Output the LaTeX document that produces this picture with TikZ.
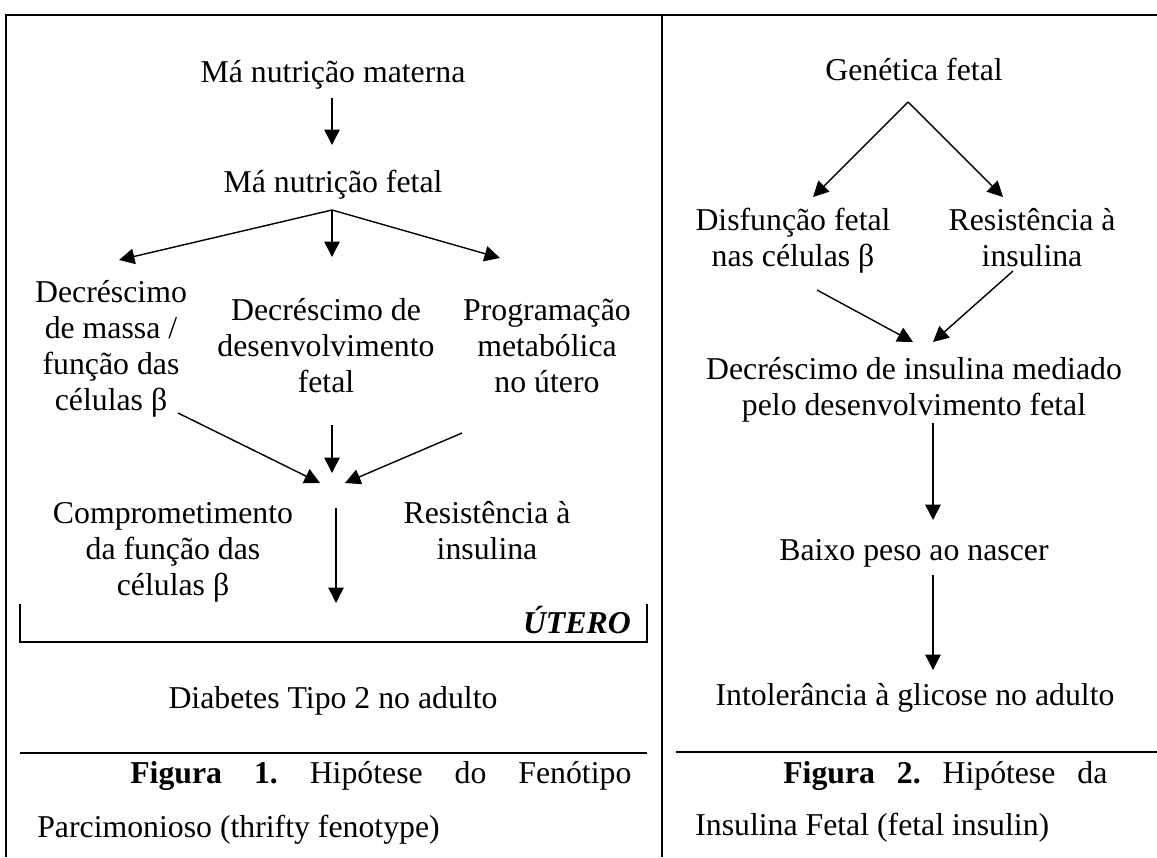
\documentclass[tikz,border=0pt]{standalone}
\usepackage{fontspec}
\setmainfont{Liberation Serif}
\usetikzlibrary{arrows.meta}

\tikzset{
  txt/.style={anchor=base,align=center,inner sep=0pt,font=\fontsize{22.6}{25.5}\selectfont},
  frame/.style={line width=1.4pt},
  arr/.style={line width=1pt,-{Triangle[length=11pt,width=11pt]}}
}

\begin{document}
\begin{tikzpicture}[x=0.025cm,y=-0.025cm]
    \useasboundingbox (0,0) rectangle (1157,857);
    % frame
    \draw[frame] (5,15) -- (1157,15);
    \draw[frame] (6,15) -- (6,857);
    \draw[frame] (662,15) -- (662,857);
    \draw[frame] (20,604) -- (20,642) -- (647,642) -- (647,604);
    \draw[frame] (20,753) -- (647,753);
    \draw[frame] (676,752) -- (1157,752);

    % figura 1 (base = last line)
    \node[txt] (mat) at (333,82) {Má nutrição materna};
    \node[txt] (fet) at (333,192) {Má nutrição fetal};
    \node[txt] (mass) at (111,410) {Decréscimo\\de massa /\\função das\\células β};
    \node[txt] (dev) at (326,392) {Decréscimo de\\desenvolvimento\\fetal};
    \node[txt] (prog) at (547,392) {Programação\\metabólica\\no útero};
    \node[txt] (comp) at (173,595) {Comprometimento\\da função das\\células β};
    \node[txt] (res) at (487,559) {Resistência à\\insulina};
    \node[txt,anchor=base east] (utero) at (631,633) {\textbf{\textit{ÚTERO}}};
    \node[txt] (diab) at (333,708) {Diabetes Tipo 2 no adulto};
    \node[txt,anchor=base west] (fig1a) at (130,783)
        {\makebox[12.525cm][l]{\textbf{Figura}\hfill\textbf{1.}\hfill Hipótese\hfill do\hfill Fenótipo}};
    \node[txt,anchor=base west] (fig1b) at (37,837) {Parcimonioso (thrifty fenotype)};

    \coordinate (a1) at (332,98);
    \coordinate (a2) at (332,145);
    \coordinate (br1) at (332,210);
    \coordinate (t1) at (119,260);
    \coordinate (t2) at (332,257);
    \coordinate (t3) at (500,258);
    \coordinate (s1) at (178,413);
    \coordinate (s2) at (332,425);
    \coordinate (s3) at (462,433);
    \coordinate (e1) at (320,483);
    \coordinate (e2) at (332,473);
    \coordinate (e3) at (345,483);
    \coordinate (d1) at (336,508);
    \coordinate (d2) at (336,603);
    \draw[arr] (a1) -- (a2);
    \draw[arr] (br1) -- (t1);
    \draw[arr] (br1) -- (t2);
    \draw[arr] (br1) -- (t3);
    \draw[arr] (s1) -- (e1);
    \draw[arr] (s2) -- (e2);
    \draw[arr] (s3) -- (e3);
    \draw[arr] (d1) -- (d2);

    % figura 2
    \node[txt] (gen) at (914,80) {Genética fetal};
    \node[txt] (dis) at (793,266) {Disfunção fetal\\nas células β};
    \node[txt] (resr) at (1032,266) {Resistência à\\insulina};
    \node[txt] (dec) at (914,415) {Decréscimo de insulina mediado\\pelo desenvolvimento fetal};
    \node[txt] (baixo) at (914,560) {Baixo peso ao nascer};
    \node[txt] (intol) at (915,705) {Intolerância à glicose no adulto};
    \node[txt,anchor=base west] (fig2a) at (783,783)
        {\makebox[8.1cm][l]{\textbf{Figura}\hfill\textbf{2.}\hfill Hipótese\hfill da}};
    \node[txt,anchor=base west] (fig2b) at (695,835) {Insulina Fetal (fetal insulin)};

    \coordinate (br2) at (908,102);
    \coordinate (u1) at (813,197);
    \coordinate (u2) at (1003,197);
    \coordinate (v1) at (817,290);
    \coordinate (v2) at (1013,271);
    \coordinate (w1) at (913,342);
    \coordinate (w2) at (933,342);
    \coordinate (b1) at (933,423);
    \coordinate (b2) at (933,520);
    \coordinate (c1) at (933,575);
    \coordinate (c2) at (933,670);
    \draw[arr] (br2) -- (u1);
    \draw[arr] (br2) -- (u2);
    \draw[arr] (v1) -- (w1);
    \draw[arr] (v2) -- (w2);
    \draw[arr] (b1) -- (b2);
    \draw[arr] (c1) -- (c2);
\end{tikzpicture}
\end{document}
